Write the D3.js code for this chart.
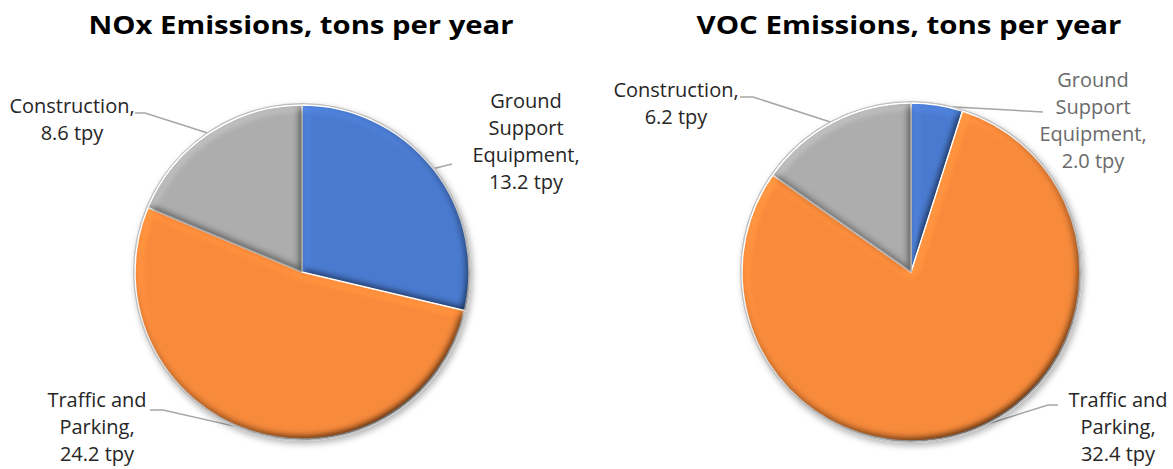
<!DOCTYPE html>
<html>
<head>
<meta charset="utf-8">
<script src="https://cdn.jsdelivr.net/npm/d3@7"></script>
<style>
  body { margin: 0; background: #fff; }
  svg { display: block; }
  .title { font-family: "Open Sans", sans-serif; font-weight: bold; fill: #000; }
  .lbl { font-family: "Open Sans", sans-serif; }
</style>
</head>
<body>
<script>
// data
var categories = ["Ground Support Equipment", "Traffic and Parking", "Construction"];
var noxValues = [13.2, 24.2, 8.6];
var vocValues = [2.0, 32.4, 6.2];
var titles = ["NOx Emissions, tons per year", "VOC Emissions, tons per year"];
var colors = ["#4a7bd0", "#f88b3b", "#adadad"];

var width = 1173, height = 469;

var svg = d3.select("body").append("svg")
    .attr("width", width)
    .attr("height", height);

var defs = svg.append("defs");

// soft bevel on each slice, light from the top left
var bv = defs.append("filter").attr("id", "bevel")
    .attr("x", "-5%").attr("y", "-5%").attr("width", "110%").attr("height", "110%");
bv.append("feGaussianBlur").attr("in", "SourceAlpha").attr("stdDeviation", 4).attr("result", "blur");
bv.append("feDiffuseLighting").attr("in", "blur").attr("surfaceScale", 6)
    .attr("diffuseConstant", 1).attr("lighting-color", "#fff").attr("result", "diff")
  .append("feDistantLight").attr("azimuth", 235).attr("elevation", 55);
bv.append("feComposite").attr("in", "SourceGraphic").attr("in2", "diff")
    .attr("operator", "arithmetic").attr("k1", 1.22).attr("k2", 0).attr("k3", 0).attr("k4", 0)
    .attr("result", "lit");
bv.append("feComposite").attr("in", "lit").attr("in2", "SourceAlpha").attr("operator", "in");

var sh = defs.append("filter").attr("id", "shadow")
    .attr("x", "-20%").attr("y", "-20%").attr("width", "140%").attr("height", "140%");
sh.append("feDropShadow").attr("dx", 2).attr("dy", 3).attr("stdDeviation", 3)
    .attr("flood-color", "#000").attr("flood-opacity", 0.3);

// label layout: text centre x, first baseline y, leader start (ex, ey)
var charts = [
  {values: noxValues, title: titles[0], cx: 302, cy: 272, r: 167, tx: 301,
   labels: [
     {lines: ["Ground", "Support", "Equipment,", "13.2 tpy"], x: 526, y: 108, ex: 452, ey: 164, elbow: 0, color: "#262626"},
     {lines: ["Traffic and", "Parking,", "24.2 tpy"], x: 97, y: 407, ex: 150, ey: 410, elbow: 13, color: "#262626"},
     {lines: ["Construction,", "8.6 tpy"], x: 72, y: 113, ex: 135, ey: 113, elbow: 10, color: "#262626"}
   ]},
  {values: vocValues, title: titles[1], cx: 911, cy: 272, r: 169, tx: 909,
   labels: [
     {lines: ["Ground", "Support", "Equipment,", "2.0 tpy"], x: 1093, y: 87, ex: 1043, ey: 112, elbow: 0, color: "#6a6a6a"},
     {lines: ["Traffic and", "Parking,", "32.4 tpy"], x: 1118, y: 407, ex: 1058, ey: 405, elbow: 10, color: "#262626"},
     {lines: ["Construction,", "6.2 tpy"], x: 676, y: 97, ex: 740, ey: 97, elbow: 13, color: "#262626"}
   ]}
];

var pie = d3.pie().sort(null).value(function(d){return d;});

charts.forEach(function(c){
    svg.append("text").attr("class", "title")
        .attr("x", c.tx).attr("y", 34)
        .attr("text-anchor", "middle")
        .attr("textLength", 425)
        .attr("lengthAdjust", "spacingAndGlyphs")
        .style("font-size", "25px")
        .text(c.title);

    var arc = d3.arc().innerRadius(0).outerRadius(c.r);
    var arcs = pie(c.values);

    // leader lines under the pie
    var leaders = svg.append("g");
    arcs.forEach(function(a, i){
        var L = c.labels[i];
        var mid = (a.startAngle + a.endAngle) / 2;
        var px = c.cx + Math.sin(mid) * (c.r - 1);
        var py = c.cy - Math.cos(mid) * (c.r - 1);
        var dir = L.ex < c.cx ? 1 : -1;
        leaders.append("path")
            .attr("d", d3.line()([[L.ex, L.ey], [L.ex + dir * L.elbow, L.ey], [px, py]]))
            .attr("fill", "none")
            .attr("stroke", "#a6a6a6")
            .attr("stroke-width", 1.5);
    });

    var g = svg.append("g").attr("transform", "translate(" + c.cx + "," + c.cy + ")");

    g.append("circle").attr("r", c.r + 2)
        .attr("fill", "#c0c0c0")
        .attr("filter", "url(#shadow)");
    g.append("circle").attr("r", c.r + 0.5)
        .attr("fill", "#f2f2f2");

    g.selectAll("path.slice").data(arcs).enter().append("path")
        .attr("class", "slice")
        .attr("d", arc)
        .attr("fill", function(d, i){return colors[i];})
        .attr("stroke", "#fff")
        .attr("stroke-width", 1.5)
        .attr("stroke-linejoin", "round")
        .attr("filter", "url(#bevel)");

    arcs.forEach(function(a, i){
        var L = c.labels[i];
        var t = svg.append("text").attr("class", "lbl")
            .attr("text-anchor", "middle")
            .style("font-size", "20px")
            .attr("fill", L.color);
        L.lines.forEach(function(s, k){
            t.append("tspan").attr("x", L.x).attr("y", L.y + k * 27).text(s);
        });
    });
});
</script>
</body>
</html>
